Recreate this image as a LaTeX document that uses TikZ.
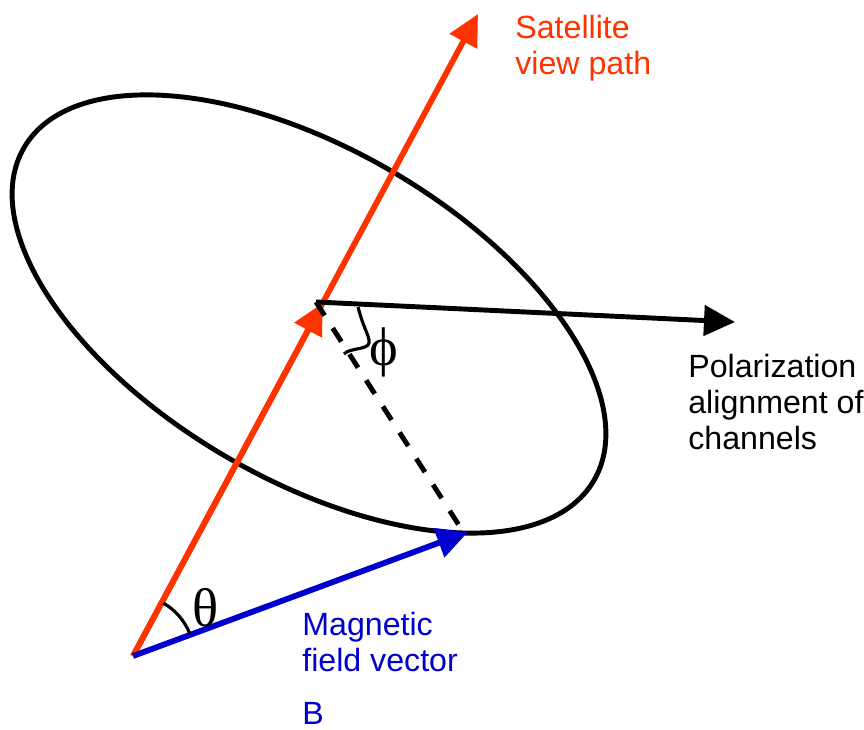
\documentclass[tikz,border=0pt]{standalone}
\usepackage{fontspec}
\setmainfont{Liberation Sans}
\newfontfamily\greekfont{Liberation Serif}
\usetikzlibrary{arrows.meta,calc}
\definecolor{satred}{RGB}{255,51,0}
\definecolor{magblue}{RGB}{0,0,204}
\tikzset{
  thick line/.style={line width=2.8pt},
  vec/.style={thick line,-{Triangle[length=0.62cm,width=0.6cm]}},
  colvec/.style={vec,line width=3.3pt},
  lbl/.style={inner sep=0pt,anchor=base west,align=left,font=\fontsize{18.3}{20.5}\selectfont},
  greek/.style={inner sep=0pt,font=\greekfont\fontsize{31}{31}\selectfont},
}
\begin{document}
\begin{tikzpicture}
\useasboundingbox (0,0) rectangle (17.28,14.6);
% coordinates (converted from pixel positions)
\coordinate (O) at (2.66,1.48);
\coordinate (Rtip) at (9.56,14.32);
\coordinate (Btip) at (9.36,3.96);
\coordinate (C) at (6.32,8.56);
\coordinate (Ptip) at (14.7,8.16);
\coordinate (D) at (9.24,4.0);
% ellipse
\draw[thick line] (6.18,8.32) ellipse [x radius=6.6, y radius=3.3, rotate=-30.3];
% satellite view path
\draw[colvec,satred] (O) -- (Rtip);
\draw[colvec,satred] (O) -- ($(O)!0.55!(Rtip)$);
% magnetic field vector
\draw[colvec,magblue] (O) -- (Btip);
% polarization
\draw[vec,black] (C) -- (Ptip);
% dashed projection
\draw[thick line,dash pattern=on 0.32cm off 0.3cm] (C) -- (D);
% theta arc
\draw[line width=1.8pt] ($(O)+(60:1.22)$) arc [start angle=60, end angle=22, radius=1.22];
% phi squiggle
\draw[line width=1.8pt] (7.16,8.46) .. controls (7.3,7.9) and (7.5,7.75) .. (7.3,7.66)
  .. controls (7.1,7.6) and (6.95,7.6) .. (6.88,7.52);
% labels (base = last line)
\node[lbl,text=satred] (sat) at (10.3,13.1) {Satellite\\view path};
\node[lbl] (pol) at (13.76,5.6) {Polarization\\alignment of\\channels};
\node[lbl,text=magblue] (mag) at (6.04,1.16) {Magnetic\\field vector};
\node[lbl,text=magblue] (B) at (6.04,0.1) {B};
\node[greek] (phi) at (7.68,7.55) {ϕ};
\node[greek] (theta) at (4.12,2.44) {θ};
\end{tikzpicture}
\end{document}
